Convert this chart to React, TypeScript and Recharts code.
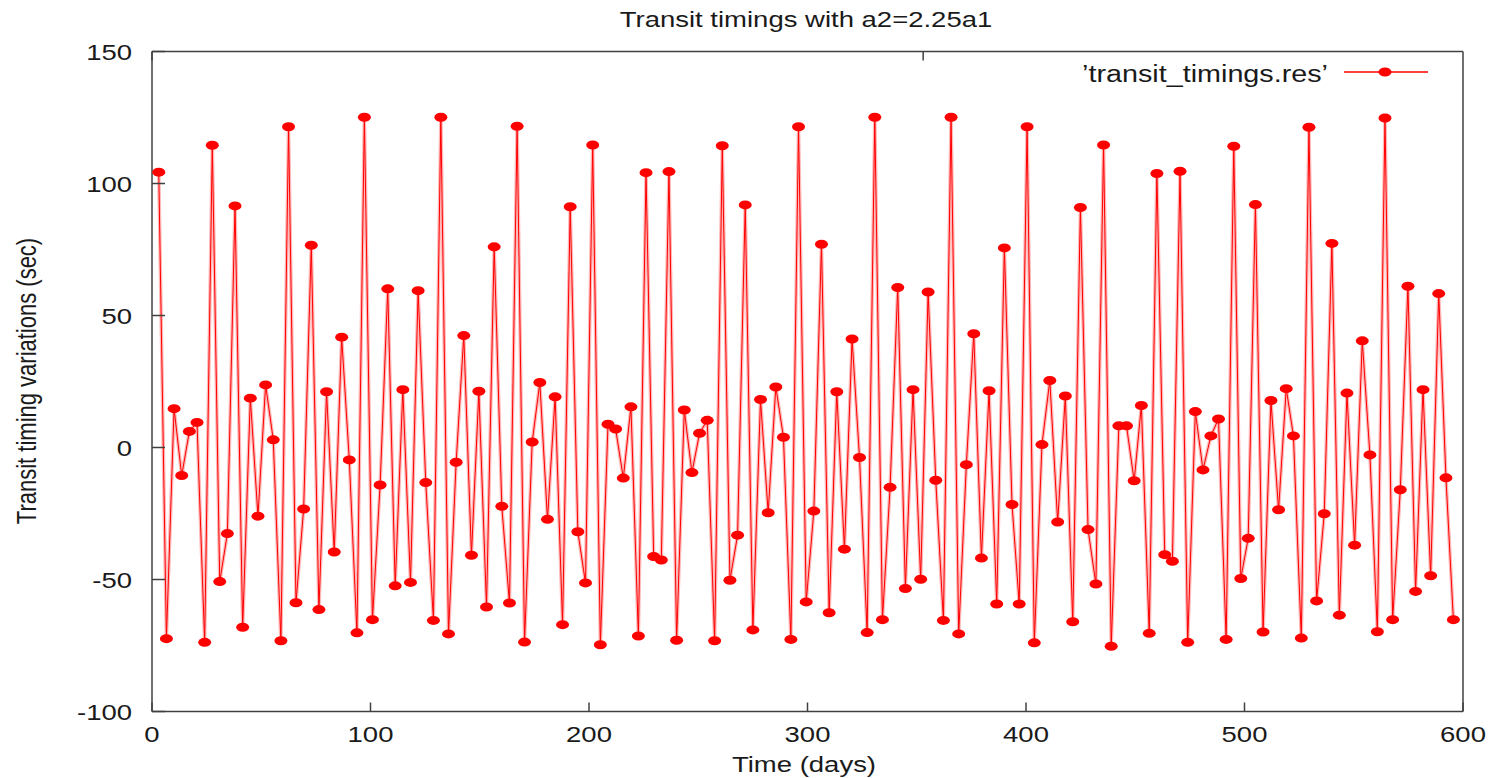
import React from 'react';
import { LineChart, Line, XAxis, YAxis, Legend } from 'recharts';

// transit epochs (days) and timing residuals (sec)
const transitDays = [
  3.1, 6.6, 10.1, 13.6, 17.1, 20.6, 24.1, 27.6, 31.0, 34.5, 38.0, 41.5, 45.0, 48.5, 52.0, 55.5, 59.0, 62.5, 65.9, 69.4,
  72.9, 76.4, 79.9, 83.4, 86.8, 90.3, 93.8, 97.2, 100.9, 104.4, 107.9, 111.3, 114.8, 118.3, 121.8, 125.3, 128.8, 132.2,
  135.7, 139.2, 142.7, 146.2, 149.6, 153.1, 156.6, 160.1, 163.6, 167.1, 170.5, 174.0, 177.5, 181.0, 184.5, 187.9, 191.4,
  194.9, 198.4, 201.7, 205.2, 208.7, 212.2, 215.7, 219.2, 222.6, 226.1, 229.6, 233.1, 236.6, 240.1, 243.6, 247.1, 250.6,
  254.1, 257.5, 261.0, 264.5, 268.0, 271.5, 275.0, 278.5, 282.0, 285.5, 289.0, 292.4, 295.9, 299.4, 302.9, 306.4, 309.9,
  313.4, 316.9, 320.4, 323.8, 327.3, 330.8, 334.3, 337.8, 341.3, 344.8, 348.3, 351.8, 355.2, 358.7, 362.2, 365.7, 369.2,
  372.7, 376.1, 379.6, 383.1, 386.6, 390.1, 393.6, 396.9, 400.5, 403.8, 407.3, 410.9, 414.5, 418.0, 421.4, 424.9, 428.4,
  432.0, 435.5, 439.0, 442.5, 446.0, 449.5, 452.8, 456.4, 459.9, 463.5, 467.0, 470.5, 474.0, 477.5, 481.0, 484.6, 488.1,
  491.6, 495.1, 498.3, 501.7, 505.0, 508.5, 512.1, 515.6, 519.1, 522.4, 526.0, 529.5, 533.0, 536.5, 540.0, 543.4, 546.9,
  550.4, 553.9, 557.4, 560.8, 564.3, 567.8, 571.3, 574.8, 578.3, 581.7, 585.2, 588.9, 592.2, 595.6,
];

const ttvSeconds = [
  104.3, -72.4, 14.7, -10.6, 6.1, 9.5, -73.8, 114.5, -50.8, -32.6, 91.5, -68.1, 18.7, -26.0, 23.7, 2.9, -73.2, 121.5,
  -58.8, -23.3, 76.6, -61.4, 21.1, -39.6, 41.8, -4.7, -70.2, 125.1,
  -65.2, -14.2, 60.1, -52.4, 21.9, -51.1, 59.4, -13.3, -65.5, 125.1, -70.6, -5.6, 42.4, -40.8, 21.3, -60.4, 76.0, -22.3,
  -58.9, 121.7, -73.7, 2.1, 24.6, -27.2, 19.2, -67.1, 91.2, -31.9, -51.3,
  114.6, -74.7, 8.8, 7.0, -11.6, 15.4, -71.4, 104.1, -41.3, -42.6, 104.5, -73.0, 14.2, -9.5, 5.4, 10.3, -73.2, 114.3,
  -50.3, -33.2, 91.9, -69.1, 18.2, -24.7, 22.9, 3.9, -72.7, 121.5, -58.5,
  -24.1, 77.0, -62.6, 21.1, -38.5, 41.1, -3.8, -70.1, 125.1, -65.2, -15.1, 60.6, -53.4, 21.9, -49.9, 58.9, -12.4, -65.5,
  125.1, -70.6, -6.5, 43.1, -41.9, 21.5, -59.3, 75.6, -21.6, -59.3, 121.5,
  -74.0, 1.1, 25.4, -28.2, 19.5, -66.0, 90.9, -31.1, -51.7, 114.6, -75.3, 8.2, 8.2, -12.6, 15.9, -70.4, 103.8, -40.6,
  -43.1, 104.6, -73.8, 13.6, -8.5, 4.4, 10.8, -72.7, 114.1, -49.6, -34.4,
  92.0, -69.9, 17.8, -23.6, 22.3, 4.4, -72.2, 121.3, -58.1, -25.1, 77.3, -63.5, 20.6, -37.0, 40.4, -2.8, -69.8, 124.8,
  -65.2, -16.0, 61.1, -54.5, 21.9, -48.6, 58.3, -11.5, -65.2,
];

const dayTicks = [0, 100, 200, 300, 400, 500, 600];
const secTicks = [-100, -50, 0, 50, 100, 150];

const data = transitDays.map((t, i) => ({ t, v: ttvSeconds[i] }));

const W = 1508;
const H = 778;
const FONT = '"Liberation Sans", Arial, Helvetica, sans-serif';
const INK = '#1a1a1a';
const FRAME = '#404040';
const RED = '#ff0000';
const STRETCH = 1.25; // glyphs are wider than tall

const BottomTick = ({ x, y, payload }: any) => (
  <g>
    <line x1={x} y1={y} x2={x} y2={y - 9} stroke={FRAME} strokeWidth={1.5} />
    <text
      transform={`translate(${x},${y + 30}) scale(${STRETCH},1)`}
      textAnchor="middle"
      fontFamily={FONT}
      fontSize={22}
      fill={INK}
    >
      {payload.value}
    </text>
  </g>
);

const TopTick = ({ x, y }: any) => (
  <line x1={x} y1={y} x2={x} y2={y + 9} stroke={FRAME} strokeWidth={1.5} />
);

const LeftTick = ({ x, y, payload }: any) => (
  <g>
    <line x1={x} y1={y} x2={x + 13} y2={y} stroke={FRAME} strokeWidth={1.5} />
    <text
      transform={`translate(${x - 20},${y + 8}) scale(${STRETCH},1)`}
      textAnchor="end"
      fontFamily={FONT}
      fontSize={22}
      fill={INK}
    >
      {payload.value}
    </text>
  </g>
);

const RightTick = ({ x, y }: any) => (
  <line x1={x} y1={y} x2={x - 13} y2={y} stroke={FRAME} strokeWidth={1.5} />
);

const Dot = (p: any) => (
  <ellipse key={`dot-${p.index}`} cx={p.cx} cy={p.cy} rx={6.5} ry={4.5} fill={RED} />
);

const renderLegend = () => (
  <svg width={380} height={34} style={{ display: 'block' }}>
    <text
      transform={`translate(268,26) scale(${STRETCH},1)`}
      textAnchor="end"
      fontFamily={FONT}
      fontSize={23}
      fill={INK}
    >
      ’transit_timings.res’
    </text>
    <line x1={284} y1={16} x2={368} y2={16} stroke={RED} strokeWidth={1.5} />
    <ellipse cx={325} cy={16} rx={6.5} ry={4.5} fill={RED} />
  </svg>
);

const axisLine = { stroke: FRAME, strokeWidth: 1.5 };

export default function App() {
  return (
    <div style={{ position: 'absolute', left: 0, top: 0, width: W, height: H, background: '#fff' }}>
      <LineChart
        width={W}
        height={H}
        data={data}
        margin={{ top: 50.5, right: 44, bottom: 65.5, left: 151 }}
      >
        <XAxis
          dataKey="t"
          type="number"
          domain={[0, 600]}
          ticks={dayTicks}
          interval={0}
          height={1}
          tickSize={0}
          tickMargin={0}
          tickLine={false}
          axisLine={axisLine}
          tick={<BottomTick />}
        />
        <XAxis
          xAxisId="top"
          orientation="top"
          type="number"
          domain={[0, 600]}
          ticks={dayTicks}
          interval={0}
          height={1}
          tickSize={0}
          tickMargin={0}
          tickLine={false}
          axisLine={axisLine}
          tick={<TopTick />}
        />
        <YAxis
          type="number"
          domain={[-100, 150]}
          ticks={secTicks}
          interval={0}
          width={1}
          tickSize={0}
          tickMargin={0}
          tickLine={false}
          axisLine={axisLine}
          tick={<LeftTick />}
        />
        <YAxis
          yAxisId="right"
          orientation="right"
          type="number"
          domain={[-100, 150]}
          ticks={secTicks}
          interval={0}
          width={1}
          tickSize={0}
          tickMargin={0}
          tickLine={false}
          axisLine={axisLine}
          tick={<RightTick />}
        />
        <Legend
          layout="horizontal"
          verticalAlign="middle"
          align="center"
          wrapperStyle={{ left: 1060, top: 56, width: 380, height: 34 }}
          content={renderLegend}
        />
        {/* soft halo under the connecting line */}
        <Line
          dataKey="v"
          stroke="#ffb8b8"
          strokeWidth={3.5}
          dot={false}
          activeDot={false}
          legendType="none"
          isAnimationActive={false}
        />
        <Line
          dataKey="v"
          name="’transit_timings.res’"
          stroke={RED}
          strokeWidth={1}
          dot={Dot}
          activeDot={false}
          isAnimationActive={false}
        />
      </LineChart>
      <svg
        width={W}
        height={H}
        style={{ position: 'absolute', left: 0, top: 0, pointerEvents: 'none' }}
      >
        <text
          transform={`translate(806,27) scale(${STRETCH},1)`}
          textAnchor="middle"
          fontFamily={FONT}
          fontSize={22}
          fill={INK}
        >
          Transit timings with a2=2.25a1
        </text>
        <text
          transform={`translate(804,772) scale(${STRETCH},1)`}
          textAnchor="middle"
          fontFamily={FONT}
          fontSize={22}
          fill={INK}
        >
          Time (days)
        </text>
        <text
          transform={`translate(36,381) scale(${STRETCH},1) rotate(-90)`}
          textAnchor="middle"
          fontFamily={FONT}
          fontSize={22}
          fill={INK}
        >
          Transit timing variations (sec)
        </text>
      </svg>
    </div>
  );
}
